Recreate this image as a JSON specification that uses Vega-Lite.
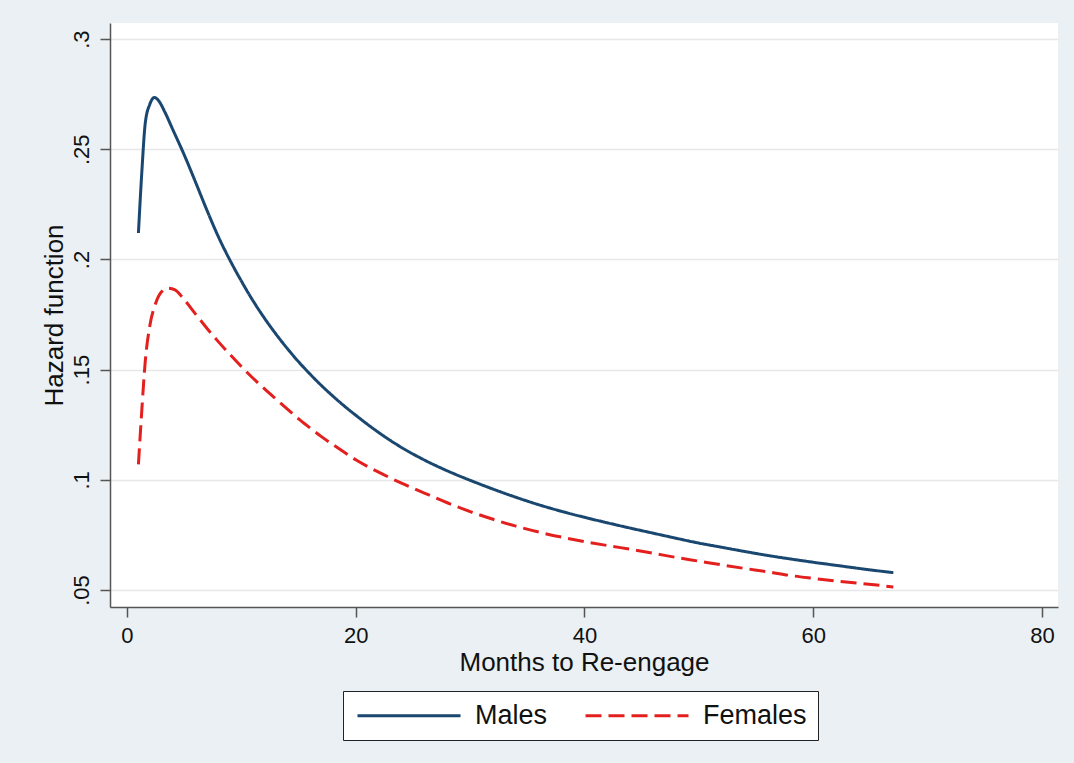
{
  "$schema": "https://vega.github.io/schema/vega-lite/v6.json",
  "width": 948,
  "height": 584,
  "autosize": {"type": "none"},
  "padding": {"left": 110, "top": 23, "right": 16, "bottom": 156},
  "background": "#eaf0f3",
  "view": {"fill": "#ffffff", "stroke": null},
  "config": {
    "font": "Liberation Sans",
    "axis": {
      "labelFont": "Liberation Sans",
      "titleFont": "Liberation Sans",
      "labelColor": "#111111",
      "titleColor": "#111111",
      "titleFontWeight": "normal",
      "domainColor": "#555555",
      "domainWidth": 1.5,
      "tickColor": "#555555",
      "tickWidth": 1.5,
      "tickSize": 10,
      "gridColor": "#e8e8e8",
      "gridWidth": 1.5
    }
  },
  "data": {
    "values": [
      {"month": 1, "hazard": 0.212, "sex": "Males"},
      {"month": 1.3, "hazard": 0.240, "sex": "Males"},
      {"month": 1.6, "hazard": 0.262, "sex": "Males"},
      {"month": 2.0, "hazard": 0.2705, "sex": "Males"},
      {"month": 2.4, "hazard": 0.2735, "sex": "Males"},
      {"month": 2.8, "hazard": 0.2718, "sex": "Males"},
      {"month": 3.3, "hazard": 0.2670, "sex": "Males"},
      {"month": 4, "hazard": 0.2590, "sex": "Males"},
      {"month": 5, "hazard": 0.2475, "sex": "Males"},
      {"month": 6, "hazard": 0.2350, "sex": "Males"},
      {"month": 7, "hazard": 0.2222, "sex": "Males"},
      {"month": 8, "hazard": 0.2102, "sex": "Males"},
      {"month": 9, "hazard": 0.1997, "sex": "Males"},
      {"month": 10, "hazard": 0.1902, "sex": "Males"},
      {"month": 11, "hazard": 0.1814, "sex": "Males"},
      {"month": 12, "hazard": 0.1735, "sex": "Males"},
      {"month": 13, "hazard": 0.1663, "sex": "Males"},
      {"month": 14, "hazard": 0.1597, "sex": "Males"},
      {"month": 15, "hazard": 0.1536, "sex": "Males"},
      {"month": 16, "hazard": 0.1480, "sex": "Males"},
      {"month": 17, "hazard": 0.1428, "sex": "Males"},
      {"month": 18, "hazard": 0.1380, "sex": "Males"},
      {"month": 19, "hazard": 0.1335, "sex": "Males"},
      {"month": 20, "hazard": 0.1293, "sex": "Males"},
      {"month": 22, "hazard": 0.1215, "sex": "Males"},
      {"month": 24, "hazard": 0.1147, "sex": "Males"},
      {"month": 26, "hazard": 0.1090, "sex": "Males"},
      {"month": 28, "hazard": 0.1041, "sex": "Males"},
      {"month": 30, "hazard": 0.0998, "sex": "Males"},
      {"month": 32, "hazard": 0.0958, "sex": "Males"},
      {"month": 34, "hazard": 0.0921, "sex": "Males"},
      {"month": 36, "hazard": 0.0887, "sex": "Males"},
      {"month": 38, "hazard": 0.0857, "sex": "Males"},
      {"month": 40, "hazard": 0.0830, "sex": "Males"},
      {"month": 42, "hazard": 0.0805, "sex": "Males"},
      {"month": 44, "hazard": 0.0781, "sex": "Males"},
      {"month": 46, "hazard": 0.0758, "sex": "Males"},
      {"month": 48, "hazard": 0.0735, "sex": "Males"},
      {"month": 50, "hazard": 0.0713, "sex": "Males"},
      {"month": 52, "hazard": 0.0694, "sex": "Males"},
      {"month": 54, "hazard": 0.0675, "sex": "Males"},
      {"month": 56, "hazard": 0.0657, "sex": "Males"},
      {"month": 58, "hazard": 0.0641, "sex": "Males"},
      {"month": 60, "hazard": 0.0626, "sex": "Males"},
      {"month": 62, "hazard": 0.0612, "sex": "Males"},
      {"month": 64, "hazard": 0.0598, "sex": "Males"},
      {"month": 66, "hazard": 0.0585, "sex": "Males"},
      {"month": 67, "hazard": 0.0579, "sex": "Males"},
      {"month": 1, "hazard": 0.107, "sex": "Females"},
      {"month": 1.3, "hazard": 0.132, "sex": "Females"},
      {"month": 1.6, "hazard": 0.154, "sex": "Females"},
      {"month": 2.0, "hazard": 0.170, "sex": "Females"},
      {"month": 2.5, "hazard": 0.180, "sex": "Females"},
      {"month": 3, "hazard": 0.1852, "sex": "Females"},
      {"month": 3.6, "hazard": 0.187, "sex": "Females"},
      {"month": 4.2, "hazard": 0.1862, "sex": "Females"},
      {"month": 5, "hazard": 0.1818, "sex": "Females"},
      {"month": 6, "hazard": 0.1752, "sex": "Females"},
      {"month": 7, "hazard": 0.1687, "sex": "Females"},
      {"month": 8, "hazard": 0.1626, "sex": "Females"},
      {"month": 9, "hazard": 0.1569, "sex": "Females"},
      {"month": 10, "hazard": 0.1514, "sex": "Females"},
      {"month": 11, "hazard": 0.1462, "sex": "Females"},
      {"month": 12, "hazard": 0.1414, "sex": "Females"},
      {"month": 13, "hazard": 0.1368, "sex": "Females"},
      {"month": 14, "hazard": 0.1322, "sex": "Females"},
      {"month": 15, "hazard": 0.1277, "sex": "Females"},
      {"month": 16, "hazard": 0.1236, "sex": "Females"},
      {"month": 17, "hazard": 0.1196, "sex": "Females"},
      {"month": 18, "hazard": 0.1160, "sex": "Females"},
      {"month": 19, "hazard": 0.1125, "sex": "Females"},
      {"month": 20, "hazard": 0.1091, "sex": "Females"},
      {"month": 22, "hazard": 0.1035, "sex": "Females"},
      {"month": 24, "hazard": 0.0985, "sex": "Females"},
      {"month": 26, "hazard": 0.0940, "sex": "Females"},
      {"month": 28, "hazard": 0.0896, "sex": "Females"},
      {"month": 30, "hazard": 0.0856, "sex": "Females"},
      {"month": 32, "hazard": 0.0821, "sex": "Females"},
      {"month": 34, "hazard": 0.0790, "sex": "Females"},
      {"month": 36, "hazard": 0.0763, "sex": "Females"},
      {"month": 38, "hazard": 0.0740, "sex": "Females"},
      {"month": 40, "hazard": 0.0720, "sex": "Females"},
      {"month": 42, "hazard": 0.0702, "sex": "Females"},
      {"month": 44, "hazard": 0.0685, "sex": "Females"},
      {"month": 46, "hazard": 0.0667, "sex": "Females"},
      {"month": 48, "hazard": 0.0648, "sex": "Females"},
      {"month": 50, "hazard": 0.0631, "sex": "Females"},
      {"month": 52, "hazard": 0.0614, "sex": "Females"},
      {"month": 54, "hazard": 0.0598, "sex": "Females"},
      {"month": 56, "hazard": 0.0583, "sex": "Females"},
      {"month": 58, "hazard": 0.0566, "sex": "Females"},
      {"month": 60, "hazard": 0.0553, "sex": "Females"},
      {"month": 62, "hazard": 0.0541, "sex": "Females"},
      {"month": 64, "hazard": 0.0531, "sex": "Females"},
      {"month": 66, "hazard": 0.0520, "sex": "Females"},
      {"month": 67, "hazard": 0.0514, "sex": "Females"}
    ]
  },
  "mark": {"type": "line", "strokeWidth": 3, "interpolate": "monotone"},
  "encoding": {
    "x": {
      "field": "month",
      "type": "quantitative",
      "scale": {"domain": [-1.486, 81.4], "nice": false, "zero": false},
      "axis": {
        "values": [0, 20, 40, 60, 80],
        "grid": false,
        "title": "Months to Re-engage",
        "titleFontSize": 26,
        "titleY": 63,
        "titleBaseline": "alphabetic",
        "labelFontSize": 22,
        "labelPadding": 8,
        "labelBaseline": "top"
      }
    },
    "y": {
      "field": "hazard",
      "type": "quantitative",
      "scale": {"domain": [0.0423, 0.3073], "nice": false, "zero": false},
      "axis": {
        "values": [0.05, 0.1, 0.15, 0.2, 0.25, 0.3],
        "format": ".2~f",
        "labelExpr": "substring(datum.label, 1)",
        "grid": true,
        "title": "Hazard function",
        "titleFontSize": 26,
        "titleX": -48,
        "titleBaseline": "alphabetic",
        "labelFontSize": 22,
        "labelAngle": -90,
        "labelAlign": "center",
        "labelBaseline": "alphabetic",
        "labelPadding": 12
      }
    },
    "color": {
      "field": "sex",
      "type": "nominal",
      "scale": {"domain": ["Males", "Females"], "range": ["#1a476f", "#e3201e"]},
      "legend": {
        "title": null,
        "orient": "none",
        "legendX": 233,
        "legendY": 668,
        "direction": "horizontal",
        "columns": 2,
        "symbolType": "M-1,0H9.3",
        "symbolSize": 400,
        "symbolStrokeWidth": 3,
        "labelFontSize": 27,
        "labelFont": "Liberation Sans",
        "labelColor": "#111111",
        "labelOffset": 94,
        "columnPadding": 31,
        "padding": 11,
        "strokeColor": "#222222",
        "fillColor": "#ffffff",
        "cornerRadius": 0
      }
    },
    "strokeDash": {
      "field": "sex",
      "type": "nominal",
      "scale": {"domain": ["Males", "Females"], "range": [[1, 0], [16, 7]]},
      "legend": null
    }
  }
}
